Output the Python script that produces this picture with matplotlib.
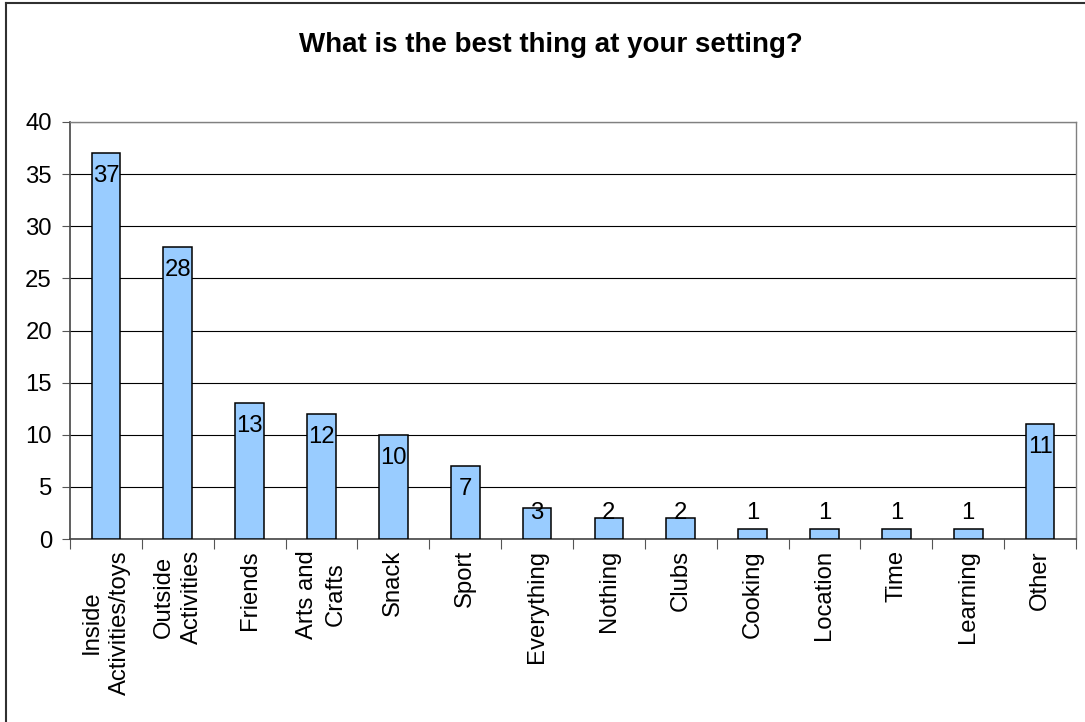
import matplotlib
matplotlib.use("Agg")
import matplotlib.pyplot as plt
from matplotlib.lines import Line2D

categories = ["Inside\nActivities/toys", "Outside\nActivities", "Friends", "Arts and\nCrafts",
              "Snack", "Sport", "Everything", "Nothing", "Clubs", "Cooking", "Location",
              "Time", "Learning", "Other"]
values = [37, 28, 13, 12, 10, 7, 3, 2, 2, 1, 1, 1, 1, 11]
yticks = [0, 5, 10, 15, 20, 25, 30, 35, 40]
title = "What is the best thing at your setting?"

plt.rcParams['font.family'] = ['Liberation Sans', 'DejaVu Sans']

W, H = 1085, 722
fig = plt.figure(figsize=(W / 100, H / 100), dpi=100)
fig.patch.set_facecolor('white')

# outer chart border (left and top visible)
fig.add_artist(Line2D([6 / W, 6 / W], [0, 1 - 3 / H], transform=fig.transFigure, color='#303030', lw=1.5))
fig.add_artist(Line2D([6 / W, 1], [1 - 3 / H, 1 - 3 / H], transform=fig.transFigure, color='#303030', lw=1.5))

ax = fig.add_axes([70 / W, 1 - 539 / H, (1076 - 70) / W, (539 - 122) / H])
x = list(range(len(categories)))
ax.bar(x, values, width=0.4, color='#99CCFF', edgecolor='black', linewidth=1.1, zorder=3)

fs = 17.2
ax.set_xlim(-0.5, len(categories) - 0.5)
ax.set_ylim(0, 40)
ax.set_yticks(yticks)
ax.set_yticklabels([str(t) for t in yticks], fontsize=fs)
ax.yaxis.grid(True, color='black', linewidth=0.8, zorder=0)
ax.set_axisbelow(True)

ax.set_xticks(x)
ax.set_xticklabels(categories, rotation=90, fontsize=fs, multialignment='center', va='top',
                   linespacing=1.4)
ax.tick_params(axis='x', length=0, pad=8)
ax.set_xticks([i - 0.5 for i in range(len(categories) + 1)], minor=True)
ax.tick_params(axis='x', which='minor', length=7, width=0.8, color='#555555')
ax.tick_params(axis='y', length=6, width=0.8, color='#555555', pad=7)

for s in ['top', 'right']:
    ax.spines[s].set_color('#808080')
    ax.spines[s].set_linewidth(1.0)
for s in ['left', 'bottom']:
    ax.spines[s].set_color('#444444')
    ax.spines[s].set_linewidth(1.2)

for xi, v in zip(x, values):
    ax.text(xi, max(v - 2.2, 2.5), str(v), ha='center', va='center', fontsize=fs, zorder=4)

fig.text(551 / W, 1 - 45 / H, title, ha='center', va='center', fontsize=20, fontweight='bold')

fig.savefig('out.png', dpi=100)
